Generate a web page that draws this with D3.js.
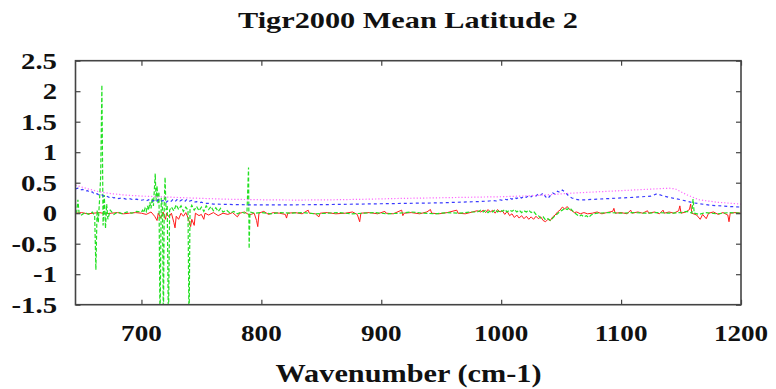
<!DOCTYPE html>
<html><head><meta charset="utf-8">
<script src="https://cdn.jsdelivr.net/npm/d3@7/dist/d3.min.js"></script>
<style>html,body{margin:0;padding:0;background:#fff;}svg{display:block;}</style>
</head><body><svg id="chart" width="776" height="389"></svg>
<script>
const title = "Tigr2000 Mean Latitude 2";
const xLabel = "Wavenumber (cm-1)";
const xTicks = [700, 800, 900, 1000, 1100, 1200];
const yTicks = [-1.5, -1, -0.5, 0, 0.5, 1, 1.5, 2, 2.5];

// [wavenumber, value] pairs per series
const magentaPts = [[645,0.46],[655,0.40],[665,0.35],[675,0.32],[685,0.30],[700,0.28],[715,0.27],[740,0.25],[770,0.23],[800,0.22],[830,0.215],[860,0.22],[890,0.23],[910,0.24],[940,0.25],[970,0.26],[1000,0.27],[1030,0.29],[1060,0.33],[1080,0.35],[1100,0.37],[1120,0.39],[1140,0.41],[1145,0.40],[1155,0.30],[1165,0.22],[1180,0.18],[1200,0.15]];

const bluePts = [[645,0.40],[647,0.41],[649,0.38],[651,0.39],[653,0.36],[655,0.37],[657,0.34],[659,0.35],[661,0.31],[663,0.32],[665,0.29],[667,0.30],[669,0.27],[671,0.28],[673,0.26],[675,0.27],[677,0.25],[679,0.26],[681,0.24],[684,0.25],[687,0.23],[690,0.24],[693,0.22],[696,0.23],[699,0.21],[702,0.22],[704,0.20],[706,0.22],[708,0.19],[710,0.21],[712,0.18],[714,0.22],[716,0.19],[718,0.21],[720,0.17],[722,0.20],[724,0.18],[726,0.22],[728,0.19],[730,0.23],[732,0.20],[734,0.22],[736,0.19],[738,0.23],[740,0.20],[742,0.21],[744,0.18],[746,0.19],[748,0.17],[750,0.18],[753,0.16],[756,0.16],[760,0.15],[780,0.14],[800,0.135],[850,0.14],[900,0.155],[950,0.17],[980,0.19],[990,0.20],[993,0.21],[996,0.20],[999,0.22],[1001,0.21],[1003,0.23],[1005,0.22],[1007,0.25],[1009,0.23],[1011,0.26],[1013,0.24],[1015,0.27],[1017,0.25],[1019,0.28],[1021,0.26],[1023,0.29],[1025,0.27],[1027,0.30],[1029,0.28],[1031,0.32],[1033,0.30],[1035,0.33],[1037,0.27],[1039,0.24],[1041,0.29],[1043,0.33],[1045,0.31],[1047,0.36],[1049,0.34],[1051,0.38],[1053,0.35],[1055,0.31],[1057,0.27],[1059,0.25],[1062,0.23],[1065,0.22],[1070,0.22],[1090,0.24],[1110,0.26],[1125,0.28],[1130,0.32],[1134,0.29],[1140,0.26],[1150,0.22],[1160,0.17],[1175,0.13],[1190,0.11],[1200,0.10]];

const redPts = [[645,0.0],[650,0.01],[655,-0.01],[660,0.0],[665,0.01],[670,-0.01],[675,0.0],[680,0.01],[685,-0.01],[690,0.0],[695,0.01],[700,0.0],[704,-0.02],[708,0.02],[711,-0.05],[713,-0.12],[714,0.0],[716,-0.08],[718,0.02],[720,-0.1],[721,0.0],[723,-0.06],[725,0.0],[727,-0.15],[728,-0.24],[729,-0.05],[731,-0.1],[733,0.0],[735,-0.05],[737,0.01],[739,-0.08],[741,-0.22],[742,-0.1],[744,-0.2],[745,0.0],[748,-0.04],[750,-0.02],[752,-0.1],[753,0.0],[756,-0.03],[760,0.01],[764,-0.04],[768,0.0],[772,-0.02],[776,0.01],[780,-0.06],[782,0.0],[786,0.02],[790,-0.03],[794,0.0],[796,-0.12],[797,-0.22],[798,0.0],[802,0.03],[806,-0.02],[810,0.01],[815,0.0],[820,-0.02],[821,-0.08],[822,0.0],[828,0.01],[834,-0.01],[839,0.05],[840,0.0],[845,-0.01],[848,-0.06],[849,0.0],[855,0.01],[862,-0.01],[870,0.0],[876,0.02],[880,-0.02],[882,-0.14],[883,0.0],[890,0.01],[897,-0.01],[903,0.03],[904,0.0],[910,-0.01],[917,0.05],[918,-0.04],[919,0.0],[925,0.01],[932,-0.01],[938,0.02],[941,0.06],[942,0.0],[948,-0.01],[955,0.01],[963,0.05],[964,0.0],[970,-0.01],[976,0.02],[980,0.04],[983,0.02],[985,0.05],[987,0.01],[989,0.06],[991,0.02],[993,0.05],[995,0.0],[997,0.06],[999,0.02],[1001,0.04],[1003,-0.02],[1005,0.03],[1007,-0.04],[1009,-0.01],[1011,-0.07],[1013,-0.03],[1015,-0.08],[1017,-0.04],[1019,-0.09],[1021,-0.05],[1023,-0.1],[1025,-0.06],[1027,-0.1],[1029,-0.05],[1031,-0.09],[1033,-0.06],[1035,-0.12],[1037,-0.14],[1039,-0.1],[1041,-0.12],[1043,-0.06],[1045,-0.03],[1047,0.02],[1049,0.05],[1051,0.1],[1053,0.07],[1055,0.11],[1057,0.06],[1059,0.04],[1061,0.01],[1063,0.02],[1066,-0.01],[1069,0.01],[1072,-0.01],[1076,0.0],[1080,0.02],[1084,-0.01],[1088,0.01],[1093,0.03],[1094,0.08],[1095,0.0],[1100,0.01],[1105,-0.01],[1108,0.05],[1109,0.0],[1114,0.02],[1118,0.0],[1122,0.04],[1123,0.0],[1128,0.02],[1132,-0.01],[1135,0.05],[1136,0.0],[1140,0.02],[1144,0.0],[1148,0.04],[1149,0.12],[1150,0.0],[1154,0.02],[1157,0.06],[1158,0.15],[1159,0.0],[1163,-0.03],[1166,-0.1],[1168,-0.02],[1171,-0.09],[1173,0.0],[1177,0.02],[1181,-0.02],[1185,0.01],[1189,-0.03],[1190,-0.14],[1191,0.0],[1195,0.01],[1200,0.0]];

const greenPts = [[645,0.0],[646,0.02],[647,0.22],[648,0.0],[650,-0.03],[653,0.01],[656,-0.02],[659,0.02],[661,-0.04],[662,-0.93],[663,0.05],[664,-0.15],[665,0.2],[666,0.6],[667,2.1],[668,-0.2],[669,0.3],[670,-0.25],[671,0.15],[672,-0.1],[674,0.05],[677,-0.02],[680,0.02],[684,-0.01],[688,0.02],[692,0.0],[696,0.03],[700,0.02],[701,0.05],[702,0.01],[703,0.08],[704,0.03],[705,0.12],[706,0.05],[707,0.18],[708,0.08],[709,0.25],[710,0.12],[710.8,0.4],[711.5,0.65],[712.2,0.2],[713,0.45],[713.8,0.15],[714.6,0.35],[715.5,-1.9],[716.5,0.25],[717.5,0.1],[718.3,-1.9],[719,0.15],[719.7,0.59],[720.5,0.05],[721.5,0.12],[722.5,-1.9],[723.5,0.05],[725,0.1],[727,0.04],[729,0.14],[731,0.06],[733,0.12],[735,0.03],[737,0.1],[738.8,0.05],[739.7,-1.9],[740.5,0.06],[742,0.13],[744,0.05],[746,0.11],[748,0.04],[750,0.1],[752,0.03],[754,0.12],[756,0.06],[758,0.11],[760,0.04],[762,0.09],[764,0.03],[766,0.08],[768,0.02],[771,0.05],[774,0.0],[777,0.03],[780,-0.01],[783,0.02],[786,0.0],[788,0.02],[789.3,0.75],[789.8,-0.58],[790.5,0.02],[794,0.0],[800,0.01],[808,-0.01],[816,0.01],[825,0.0],[835,0.01],[845,-0.01],[855,0.0],[865,0.01],[875,-0.01],[885,0.0],[895,0.01],[905,-0.01],[915,0.0],[925,0.02],[935,0.0],[945,-0.01],[955,0.01],[965,0.0],[975,0.02],[980,0.02],[983,0.05],[985,0.02],[987,0.05],[989,0.01],[991,0.04],[993,0.02],[995,0.06],[997,0.02],[999,0.05],[1001,0.03],[1003,0.06],[1005,0.02],[1007,0.05],[1009,0.03],[1011,0.06],[1013,0.02],[1015,0.05],[1017,0.01],[1019,0.04],[1021,0.02],[1023,0.05],[1025,0.01],[1027,0.03],[1029,-0.02],[1031,-0.04],[1033,-0.08],[1035,-0.06],[1037,-0.11],[1039,-0.09],[1041,-0.12],[1043,-0.08],[1045,-0.04],[1047,-0.01],[1049,0.03],[1051,0.05],[1053,0.08],[1055,0.06],[1057,0.09],[1059,0.05],[1061,0.01],[1063,-0.02],[1065,-0.05],[1067,-0.03],[1069,-0.06],[1071,-0.04],[1073,-0.07],[1075,-0.03],[1077,-0.01],[1080,0.0],[1090,0.01],[1100,0.0],[1110,0.01],[1120,0.0],[1130,0.01],[1140,0.0],[1150,0.01],[1155,0.03],[1159,0.0],[1160,0.23],[1161,0.0],[1165,-0.02],[1170,0.01],[1180,-0.01],[1190,0.01],[1200,0.0]];

const plot = {left: 75.5, right: 741, top: 60.7, bottom: 304.7};
const svg = d3.select("#chart");
const x = d3.scaleLinear().domain([645, 1200]).range([plot.left, plot.right]);
const y = d3.scaleLinear().domain([-1.5, 2.5]).range([plot.bottom, plot.top]);
const font = "Liberation Serif, Times New Roman, serif";

svg.append("defs").append("clipPath").attr("id","clip").append("rect")
  .attr("x", plot.left).attr("y", plot.top)
  .attr("width", plot.right - plot.left).attr("height", plot.bottom - plot.top);

const line = d3.line().x(d => x(d[0])).y(d => y(d[1]));
const g = svg.append("g").attr("clip-path", "url(#clip)");
const series = [
  {pts: redPts, color: "#ff1a1a", dash: null, w: 1},
  {pts: greenPts, color: "#22e022", dash: "4,2", w: 1.2},
  {pts: bluePts, color: "#3a3aff", dash: "3,3", w: 1.2},
  {pts: magentaPts, color: "#ff66ff", dash: "1.2,2", w: 1.2}
];
series.forEach(s => {
  g.append("path").datum(s.pts)
    .attr("fill", "none").attr("stroke", s.color).attr("stroke-width", s.w)
    .attr("stroke-dasharray", s.dash).attr("d", line);
});

// axes (ticks inward on all sides)
const tickLen = 5;
const axG = svg.append("g");
const xb = d3.axisBottom(x).tickValues(xTicks).tickSize(-tickLen).tickFormat("");
const xt = d3.axisTop(x).tickValues(xTicks).tickSize(-tickLen).tickFormat("");
const yl = d3.axisLeft(y).tickValues(yTicks).tickSize(-tickLen).tickFormat("");
const yr = d3.axisRight(y).tickValues(yTicks).tickSize(-tickLen).tickFormat("");
[[xb, `translate(0,${plot.bottom})`],[xt, `translate(0,${plot.top})`],[yl, `translate(${plot.left},0)`],[yr, `translate(${plot.right},0)`]]
  .forEach(([a, t]) => {
    const gg = axG.append("g").attr("transform", t).call(a);
    gg.select(".domain").remove();
    gg.selectAll("line").attr("stroke", "#444").attr("stroke-width", 1.2);
  });
svg.append("rect").attr("x", plot.left).attr("y", plot.top)
  .attr("width", plot.right - plot.left).attr("height", plot.bottom - plot.top)
  .attr("fill", "none").attr("stroke", "#444").attr("stroke-width", 1.6);

// x tick labels
xTicks.forEach(v => {
  svg.append("text").attr("transform", `translate(${x(v)},341) scale(1.18,1)`)
    .attr("text-anchor", "middle").attr("font-family", font).attr("font-weight", "bold")
    .attr("font-size", 23).attr("fill", "#111").text(String(v));
});
// y tick labels
yTicks.forEach(v => {
  svg.append("text").attr("transform", `translate(57,${y(v) + 8}) scale(1.25,1)`)
    .attr("text-anchor", "end").attr("font-family", font).attr("font-weight", "bold")
    .attr("font-size", 23).attr("fill", "#111").text(String(v));
});
svg.append("text").attr("x", 408).attr("y", 28.3).attr("text-anchor", "middle")
  .attr("font-family", font).attr("font-weight", "bold").attr("font-size", 24)
  .attr("textLength", 340).attr("lengthAdjust", "spacingAndGlyphs").attr("fill", "#111").text(title);
svg.append("text").attr("x", 408.5).attr("y", 382).attr("text-anchor", "middle")
  .attr("font-family", font).attr("font-weight", "bold").attr("font-size", 25)
  .attr("textLength", 266).attr("lengthAdjust", "spacingAndGlyphs").attr("fill", "#111").text(xLabel);
</script></body></html>
